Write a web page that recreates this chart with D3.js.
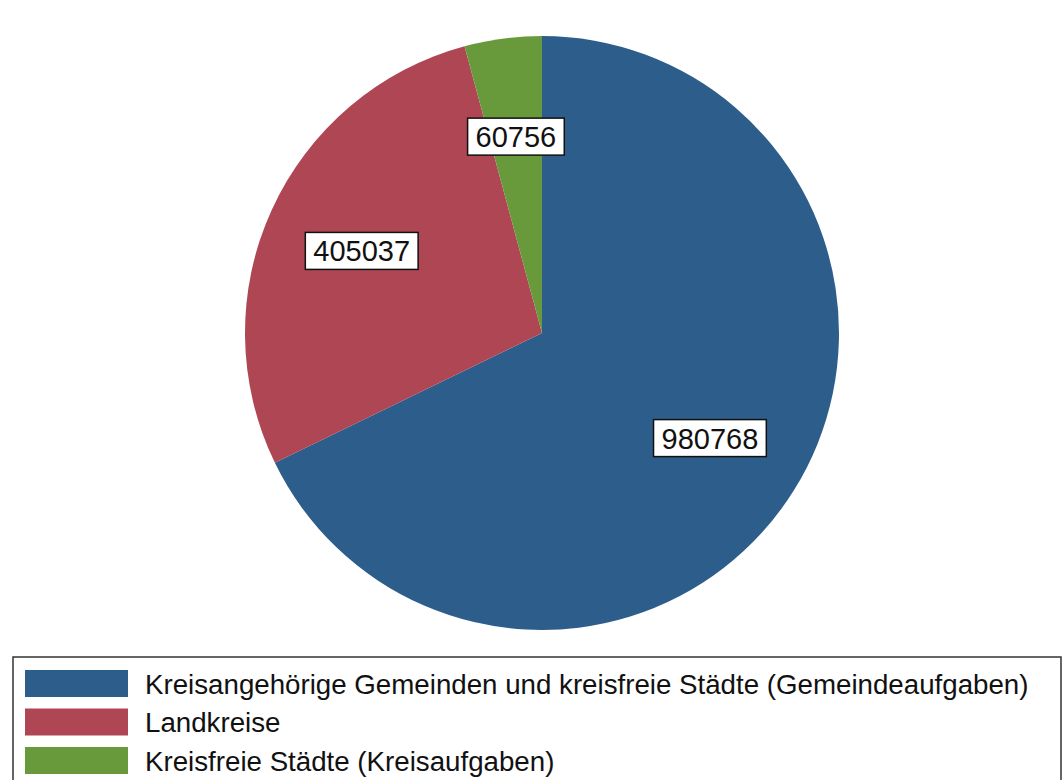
<!DOCTYPE html>
<html>
<head>
    <meta charset="utf-8">
    <title>Pie</title>
    <script src="https://cdnjs.cloudflare.com/ajax/libs/d3/7.8.5/d3.min.js"></script>
    <style>
        body { margin: 0; background: #fff; }
        svg { display: block; font-family: "Liberation Sans", Arial, sans-serif; }
    </style>
</head>
<body>
<script type="text/javascript">
    var categories = [
        "Kreisangehörige Gemeinden und kreisfreie Städte (Gemeindeaufgaben)",
        "Landkreise",
        "Kreisfreie Städte (Kreisaufgaben)"
    ];
    var values = [980768, 405037, 60756];
    var colors = ["#2d5d8b", "#af4654", "#689a3b"];

    var width = 1064,
        height = 780,
        cx = 542,
        cy = 333,
        radius = 297;

    var svg = d3.select("body").append("svg")
        .attr("width", width)
        .attr("height", height);

    var data = categories.map(function(c, i){
        return {name: c, value: values[i], color: colors[i]};
    });

    var pie = d3.pie()
        .sort(null)
        .value(function(d){ return d.value; });

    var arc = d3.arc().innerRadius(0).outerRadius(radius);
    var labelArc = d3.arc().innerRadius(radius * 0.667).outerRadius(radius * 0.667);

    var g = svg.append("g")
        .attr("transform", "translate(" + cx + "," + cy + ")");

    var arcs = pie(data);

    g.selectAll("path.slice")
        .data(arcs)
      .enter().append("path")
        .attr("class", "slice")
        .attr("d", arc)
        .attr("fill", function(d){ return d.data.color; });

    // value labels in white boxes
    var labels = g.selectAll("g.label")
        .data(arcs)
      .enter().append("g")
        .attr("class", "label")
        .attr("transform", function(d){ return "translate(" + labelArc.centroid(d) + ")"; });

    labels.append("rect");
    labels.append("text")
        .attr("text-anchor", "middle")
        .attr("dy", "0.36em")
        .attr("font-size", 29)
        .attr("fill", "#111")
        .text(function(d){ return d.data.value; });

    labels.each(function(){
        var grp = d3.select(this);
        var w = grp.select("text").node().getComputedTextLength();
        grp.select("rect")
            .attr("x", -w / 2 - 8)
            .attr("y", -18.5)
            .attr("width", w + 16)
            .attr("height", 37)
            .attr("fill", "#fff")
            .attr("stroke", "#111")
            .attr("stroke-width", 1.5);
    });

    // legend
    var legend = svg.append("g");
    legend.append("rect")
        .attr("x", 13)
        .attr("y", 657)
        .attr("width", 1048)
        .attr("height", 140)
        .attr("fill", "#fff")
        .attr("stroke", "#333")
        .attr("stroke-width", 1.5);

    var items = legend.selectAll("g.item")
        .data(data)
      .enter().append("g")
        .attr("class", "item")
        .attr("transform", function(d, i){ return "translate(25," + (670 + i * 38.5) + ")"; });

    items.append("rect")
        .attr("width", 103)
        .attr("height", 27)
        .attr("fill", function(d){ return d.color; });

    items.append("text")
        .attr("x", 120)
        .attr("y", 14)
        .attr("dy", "0.36em")
        .attr("font-size", 27.7)
        .attr("fill", "#111")
        .text(function(d){ return d.name; });
</script>
</body>
</html>
